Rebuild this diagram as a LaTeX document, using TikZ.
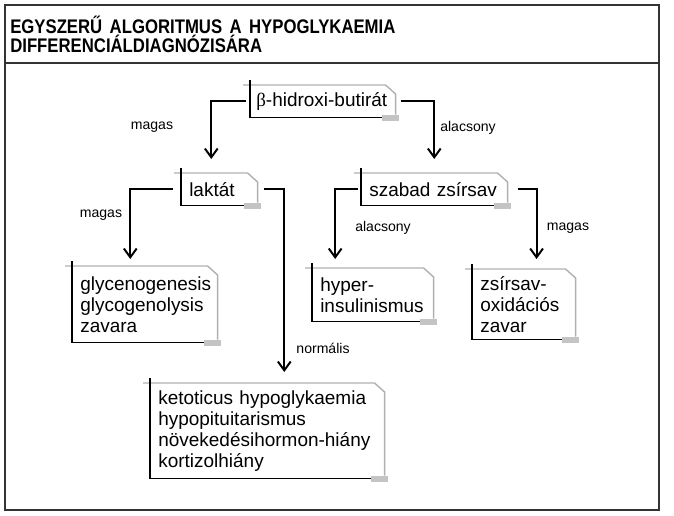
\documentclass[tikz,border=0pt]{standalone}
\usepackage{fontspec}
\setmainfont{Liberation Sans}
\newfontfamily\headfont[FakeStretch=0.85,WordSpace=1.6]{Liberation Sans}
\newfontfamily\greekfont{Liberation Serif}
\usepackage{xcolor}
\usetikzlibrary{arrows.meta}
\definecolor{cardgray}{HTML}{B0B0B0}
\definecolor{tabgray}{HTML}{C4C4C4}
\definecolor{framedark}{HTML}{333333}
\AtBeginDocument{\hyphenpenalty=10000\relax\exhyphenpenalty=10000\relax}

\begin{document}
\begin{tikzpicture}[
    card/.style={anchor=north west, inner xsep=0.2cm, inner ysep=0pt, align=left,
      font=\fontsize{13.5}{14.9}\selectfont},
    cardline/.style={draw=black, line width=1.2pt},
    rim/.style={draw=cardgray, line width=1.0pt},
    conn/.style={-{Straight Barb[length=2.2mm,width=3.2mm]}, draw=black, line width=1.4pt},
    lbl/.style={font=\fontsize{10}{12}\selectfont},
    ttl/.style={font=\headfont\bfseries\fontsize{14}{13.6}\selectfont, align=left, inner sep=0pt, anchor=base west},
  ]
  \useasboundingbox (0,0) rectangle (16.85,12.9);

  % ---- frame and heading
  \draw[draw=framedark, line width=1.2pt] (0.125,0.15) rectangle (16.475,12.775);
  \draw[draw=framedark, line width=1.0pt] (0.125,11.325) -- (16.475,11.325);
  \node[ttl] (title) at (0.25,11.575)
    {EGYSZERŰ ALGORITMUS A HYPOGLYKAEMIA\\DIFFERENCIÁLDIAGNÓZISÁRA};

  % ---- cards
  \node[card, inner xsep=0.15cm, text width=3.325cm, minimum height=0.8cm] (bhb) at (6.25,10.775)
    {{\greekfont β}-hidroxi-butirát};
  \node[card, text width=1.5cm, minimum height=0.8cm] (lak) at (4.525,8.575)
    {laktát};
  \node[card, text width=3.25cm, minimum height=0.8cm] (zsav) at (9.025,8.575)
    {szabad zsírsav};
  \node[card, text width=3.225cm, minimum height=1.9cm] (glyc) at (1.8,6.25)
    {glycenogenesis\\glycogenolysis\\zavara};
  \node[card, text width=2.625cm, minimum height=1.325cm] (hins) at (7.8,6.2)
    {hyper-\\insulinismus};
  \node[card, text width=2.175cm, minimum height=1.75cm] (oxid) at (11.8,6.175)
    {zsírsav-\\oxidációs\\zavar};
  \node[card, text width=5.45cm, minimum height=2.375cm] (keto) at (3.75,3.325)
    {ketoticus hypoglykaemia\\hypopituitarismus\\növekedésihormon-hiány\\kortizolhiány};

  % card outlines: grey top with cut corner, black left and bottom, grey tab
  \foreach \c in {bhb,lak,zsav,glyc,hins,oxid,keto}{
    \draw[rim] ([xshift=-0.175cm]\c.north west) -- ([xshift=-0.25cm]\c.north east)
      -- ([yshift=-0.225cm]\c.north east) -- ([yshift=0.075cm]\c.south east);
    \fill[tabgray] ([xshift=-0.35cm,yshift=0.075cm]\c.south east)
      rectangle ([xshift=0.075cm,yshift=-0.075cm]\c.south east);
    \draw[cardline] ([yshift=0.125cm]\c.north west) -- (\c.south west)
      -- ([xshift=-0.35cm]\c.south east);
  }

  % ---- decisions
  \draw[conn, shorten <=0.1cm, shorten >=0.35cm] (bhb.west) -| ([xshift=-0.2cm]lak.north);
  \draw[conn, shorten <=0.125cm, shorten >=0.35cm] (bhb.east) -| (zsav.north);
  \draw[conn, shorten <=0.2cm, shorten >=0.175cm] (lak.west) -| ([xshift=-0.3625cm]glyc.north);
  \draw[conn, shorten <=0.15cm, shorten >=0.275cm] (lak.east) -| ([xshift=0.425cm]keto.north);
  \draw[conn, shorten <=0.075cm, shorten >=0.225cm] (zsav.west) -| ([xshift=-0.94cm]hins.north);
  \draw[conn, shorten <=0.25cm, shorten >=0.25cm] (zsav.east) -| ([xshift=0.32cm]oxid.north);

  \node[lbl] (magasA) at (3.8,9.725) {magas};
  \node[lbl] (alacsA) at (11.7,9.7) {alacsony};
  \node[lbl] (magasB) at (2.525,7.525) {magas};
  \node[lbl] (alacsB) at (9.575,7.2) {alacsony};
  \node[lbl] (magasC) at (14.2,7.2) {magas};
  \node[lbl] (normal) at (8.075,4.2) {normális};
\end{tikzpicture}
\end{document}
